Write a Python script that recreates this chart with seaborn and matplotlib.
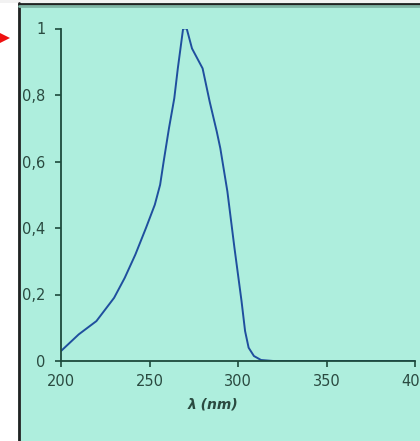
import matplotlib
matplotlib.use("Agg")
import matplotlib.pyplot as plt
import seaborn as sns
import pandas as pd
from matplotlib.patches import Rectangle, Polygon
from matplotlib.lines import Line2D

wavelength = [200, 210, 220, 230, 236, 242, 248, 253, 256, 258, 261, 264, 266, 268, 269, 271,
              272, 274, 278, 280, 284, 288, 290, 294, 298, 302, 304, 306, 309, 313, 320, 350, 400]
absorbance = [0.03, 0.08, 0.12, 0.19, 0.25, 0.32, 0.40, 0.47, 0.53, 0.60, 0.70, 0.79, 0.88, 0.96, 1.0, 1.0,
              0.98, 0.94, 0.90, 0.88, 0.78, 0.69, 0.64, 0.51, 0.34, 0.18, 0.09, 0.04, 0.015, 0.003, 0.0, 0.0, 0.0]
x_ticks = [200, 250, 300, 350, 400]
y_ticks = [0, 0.2, 0.4, 0.6, 0.8, 1.0]
y_tick_labels = ["0", "0,2", "0,4", "0,6", "0,8", "1"]

df = pd.DataFrame({"wl": wavelength, "abs": absorbance})

sns.set_style("white")
plt.rcParams['font.family'] = ['DejaVu Sans']

W, H = 420, 441
fig = plt.figure(figsize=(W / 100, H / 100), dpi=100)
mint = "#AEEEDD"
fig.patch.set_facecolor(mint)
# white strips on the left and top
fig.patches.append(Rectangle((0, 0), 18 / W, 1, transform=fig.transFigure, facecolor="white", edgecolor="none", zorder=0))
fig.patches.append(Rectangle((0, 1 - 3 / H), 1, 3 / H, transform=fig.transFigure, facecolor="#f2f2f2", edgecolor="none", zorder=0))
fig.lines.append(Line2D([19 / W, 19 / W], [0, 1 - 3 / H], transform=fig.transFigure, color="#222222", lw=2))
fig.lines.append(Line2D([19 / W, 1], [1 - 4 / H, 1 - 4 / H], transform=fig.transFigure, color="#222222", lw=2))
fig.lines.append(Line2D([19 / W, 1], [1 - 6 / H, 1 - 6 / H], transform=fig.transFigure, color="#7fb5a5", lw=2))
# red arrow marker
fig.patches.append(Polygon([(0 / W, 1 - 33 / H), (10 / W, 1 - 38 / H), (0 / W, 1 - 43 / H)],
                           closed=True, transform=fig.transFigure, facecolor="#ee1111", edgecolor="none"))

ax = fig.add_axes([61 / W, 1 - 361 / H, (415 - 61) / W, (361 - 28.5) / H])
ax.set_facecolor("none")
sns.lineplot(data=df, x="wl", y="abs", ax=ax, color="#1f4f9e", linewidth=1.4)

ax.set_xlim(200, 400)
ax.set_ylim(0, 1)
ax.set_xticks(x_ticks)
ax.set_xticklabels([str(t) for t in x_ticks])
ax.set_yticks(y_ticks)
ax.set_yticklabels(y_tick_labels)
for s in ["top", "right"]:
    ax.spines[s].set_visible(False)
spine_c = "#1d4a3c"
txt_c = "#2a4a40"
for s in ["left", "bottom"]:
    ax.spines[s].set_color(spine_c)
    ax.spines[s].set_linewidth(1.3)
ax.tick_params(axis="both", direction="out", length=4, width=1.2, color=spine_c,
               labelsize=10.5, labelcolor=txt_c, left=True, bottom=True)
ax.tick_params(axis="y", pad=7)
ax.tick_params(axis="x", pad=5)
ax.set_xlabel("λ (nm)", fontsize=10, fontweight="bold", fontstyle="italic", color=txt_c)
ax.xaxis.set_label_coords((213 - 61) / 354, -(398 - 361) / 332.5)
ax.set_ylabel("")

fig.savefig("out.png", dpi=100, facecolor=fig.get_facecolor())
